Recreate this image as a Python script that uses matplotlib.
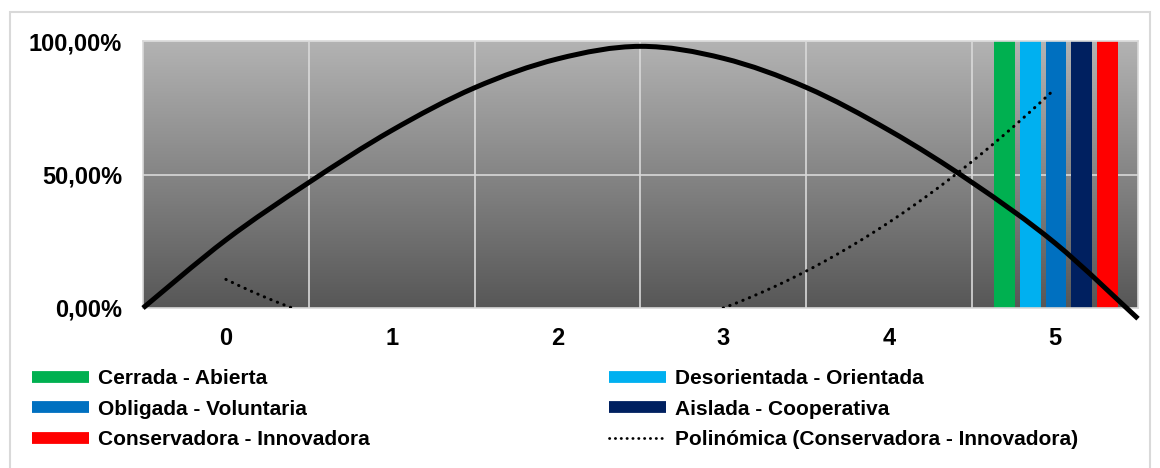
import matplotlib
matplotlib.use("Agg")
import matplotlib.pyplot as plt
import numpy as np
from matplotlib.path import Path
from matplotlib.patches import PathPatch, Rectangle
from matplotlib.lines import Line2D
from matplotlib.colors import LinearSegmentedColormap

plt.rcParams["font.family"] = ["Liberation Sans", "DejaVu Sans"]
plt.rcParams["font.weight"] = "bold"

# categories on the x axis
categories = [0, 1, 2, 3, 4, 5]

# bar series (all only at category 5)
series_names = ["Cerrada - Abierta", "Desorientada - Orientada", "Obligada - Voluntaria",
                "Aislada - Cooperativa", "Conservadora - Innovadora"]
series_colors = ["#00B050", "#00B0F0", "#0070C0", "#002060", "#FF0000"]
cerrada = [0, 0, 0, 0, 0, 1.0]
desorientada = [0, 0, 0, 0, 0, 1.0]
obligada = [0, 0, 0, 0, 0, 1.0]
aislada = [0, 0, 0, 0, 0, 1.0]
conservadora = [0, 0, 0, 0, 0, 1.0]
series_values = [cerrada, desorientada, obligada, aislada, conservadora]

# thick black curve
curve_x = [-0.5, 0.0, 0.5, 1.0, 1.5, 2.0, 2.5, 3.0, 3.5, 4.0, 4.5, 5.0, 5.5]
curve_y = [0.0, 0.255, 0.47, 0.665, 0.825, 0.933, 0.98, 0.935, 0.826, 0.665, 0.47, 0.243, -0.04]

y_ticks = [0.0, 0.5, 1.0]
y_labels = ["0,00%", "50,00%", "100,00%"]

fig = plt.figure(figsize=(11.6, 4.68), dpi=100)
ax = fig.add_axes([143 / 1160, 1 - 308 / 468, (1138 - 143) / 1160, (308 - 41) / 468])
ax.set_xlim(-0.5, 5.5)
ax.set_ylim(0, 1)

# gradient background of the plot area
cmap = LinearSegmentedColormap.from_list("bg", ["#575757", "#b3b3b3"])
grad = np.linspace(0, 1, 256).reshape(-1, 1)
ax.imshow(grad, cmap=cmap, origin="lower", extent=(-0.5, 5.5, 0, 1), aspect="auto", zorder=0)

# grid lines
for b in np.arange(0.5, 5.0, 1.0):
    ax.axvline(b, color="#d9d9d9", lw=1.2, zorder=1)
for t in y_ticks[1:]:
    ax.axhline(t, color="#d9d9d9", lw=1.2, zorder=1)

# clustered bars
x = np.array(categories, dtype=float)
step = 0.155
width = 0.125
for i, (vals, col) in enumerate(zip(series_values, series_colors)):
    ax.bar(x + (i - 2) * step + 0.005, vals, width=width, color=col, zorder=2)

# polynomial trendline (order 2) of Conservadora - Innovadora
coef = np.polyfit(x, conservadora, 2)
xt = np.linspace(0, 5, 200)
ax.plot(xt, np.polyval(coef, xt), color="black", lw=2.2,
        linestyle=(0, (0.1, 2.2)), dash_capstyle="round", zorder=3)

# smooth thick curve through the points (Catmull-Rom as bezier)
pts = np.column_stack([curve_x, curve_y])
ext = np.vstack([pts[0], pts, pts[-1]])
verts = [tuple(pts[0])]
codes = [Path.MOVETO]
for i in range(1, len(ext) - 2):
    p0, p1, p2, p3 = ext[i - 1], ext[i], ext[i + 1], ext[i + 2]
    verts += [tuple(p1 + (p2 - p0) / 6), tuple(p2 - (p3 - p1) / 6), tuple(p2)]
    codes += [Path.CURVE4] * 3
ax.add_patch(PathPatch(Path(verts, codes), fill=False, lw=3.6, ec="black",
                       capstyle="butt", clip_on=False, zorder=4))

# axes styling
for s in ax.spines.values():
    s.set_color("#d9d9d9")
    s.set_linewidth(1.2)
ax.set_yticks(y_ticks)
ax.set_yticklabels(y_labels)
ax.set_xticks(categories)
ax.set_xticklabels([str(c) for c in categories])
ax.tick_params(axis="both", length=0, labelsize=17, colors="black")
ax.tick_params(axis="y", pad=15)
ax.tick_params(axis="x", pad=14)

# legend (row-major order like the original)
handles = {n: Line2D([], [], color=c, lw=8.5, solid_capstyle="butt")
           for n, c in zip(series_names, series_colors)}
trend_label = "Polinómica (Conservadora - Innovadora)"
handles[trend_label] = Line2D([], [], color="black", lw=2.0, linestyle=(0, (0.1, 2.0)),
                              dash_capstyle="round")
order = ["Cerrada - Abierta", "Obligada - Voluntaria", "Conservadora - Innovadora",
         "Desorientada - Orientada", "Aislada - Cooperativa", trend_label]
fig.legend([handles[n] for n in order], order, loc="upper left",
           bbox_to_anchor=(32 / 1160, 1 - 369 / 468), ncol=2, frameon=False,
           fontsize=15, handlelength=2.75, handletextpad=0.4, labelspacing=0.56,
           columnspacing=11.5, borderpad=0, borderaxespad=0)

# outer chart border
fig.add_artist(Rectangle((10 / 1160, -0.02), (1150 - 10) / 1160, (468 - 12) / 468 + 0.02,
                         transform=fig.transFigure, fill=False, ec="#d9d9d9", lw=1.5))

fig.savefig("out.png", dpi=100)
